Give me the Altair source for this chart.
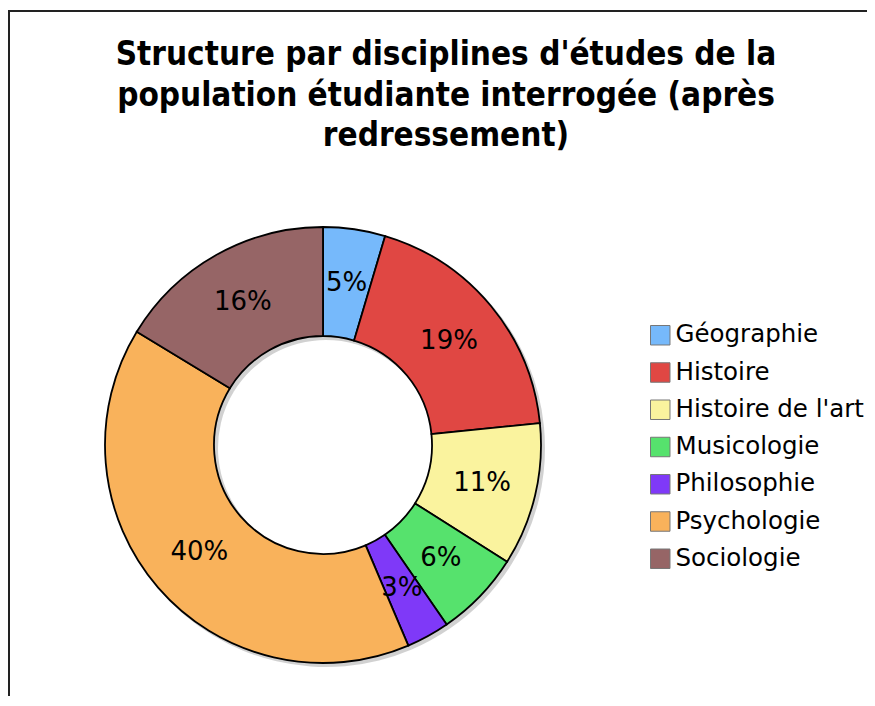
import altair as alt
import pandas as pd

categories = ["Géographie", "Histoire", "Histoire de l'art", "Musicologie",
              "Philosophie", "Psychologie", "Sociologie"]
values = [4.6, 18.8, 10.6, 6.4, 3.2, 40.1, 16.3]
colors = ["#76b9fb", "#e04743", "#faf39e", "#56e26d", "#7f39f8", "#f9b25b", "#966566"]
title_lines = ["Structure par disciplines d'études de la",
               "population étudiante interrogée (après",
               "redressement)"]

df = pd.DataFrame({
    "discipline": categories,
    "value": values,
    "pct": [v / 100 for v in values],
    "idx": list(range(len(categories))),
})

PAD_TOP = 150
W, H = 859, 538
CX, CY = 315, 287
R_OUT, R_IN = 218, 109

color_scale = alt.Scale(domain=categories, range=colors)

base = alt.Chart(df).encode(
    theta=alt.Theta("value:Q", stack=True),
    order=alt.Order("idx:Q"),
)

shadow = base.mark_arc(outerRadius=R_OUT + 1, innerRadius=R_IN - 1, color="#9a9a9a",
                       opacity=0.45).encode(
    x=alt.value(CX + 3), y=alt.value(CY + 3), detail="discipline:N")

donut = base.mark_arc(outerRadius=R_OUT, innerRadius=R_IN, stroke="black",
                      strokeWidth=1.8).encode(
    x=alt.value(CX), y=alt.value(CY),
    color=alt.Color("discipline:N", scale=color_scale, sort=categories,
                    legend=alt.Legend(title=None, orient="none", legendX=640, legendY=165,
                                      symbolType="square", symbolSize=380,
                                      symbolStrokeColor="#777", symbolStrokeWidth=1,
                                      labelFont="DejaVu Sans", labelFontSize=24.5,
                                      labelColor="black", labelOffset=3,
                                      rowPadding=12.25, labelLimit=300)),
)

labels = base.mark_text(radius=(R_OUT + R_IN) / 2, font="DejaVu Sans", fontSize=26,
                        color="black").encode(
    x=alt.value(CX), y=alt.value(CY),
    detail="discipline:N",
    text=alt.Text("pct:Q", format=".0%"),
)

title_df = pd.DataFrame({"t": ["\n".join(title_lines)]})
title = alt.Chart(title_df).mark_text(
    font="DejaVu Sans Condensed", fontSize=33, fontWeight="bold", color="black",
    align="center", baseline="alphabetic", lineBreak="\n", lineHeight=40.5,
).encode(x=alt.value(438), y=alt.value(65 - 8 - PAD_TOP), text="t:N")

frame_df = pd.DataFrame({"a": [0]})
left_rule = alt.Chart(frame_df).mark_rule(color="#222", strokeWidth=2).encode(
    x=alt.value(1), y=alt.value(-PAD_TOP + 3), y2=alt.value(H + 10))
top_rule = alt.Chart(frame_df).mark_rule(color="#222", strokeWidth=2).encode(
    x=alt.value(0), x2=alt.value(W + 10), y=alt.value(-PAD_TOP + 3))

chart = alt.layer(shadow, donut, labels, title, left_rule, top_rule).properties(
    width=W, height=H,
    autosize=alt.AutoSizeParams(type="none"),
    padding={"top": PAD_TOP, "left": 0, "right": 0, "bottom": 0},
).configure_view(stroke=None)

chart.save("out.html", embed_options={"renderer": "svg", "actions": False})
